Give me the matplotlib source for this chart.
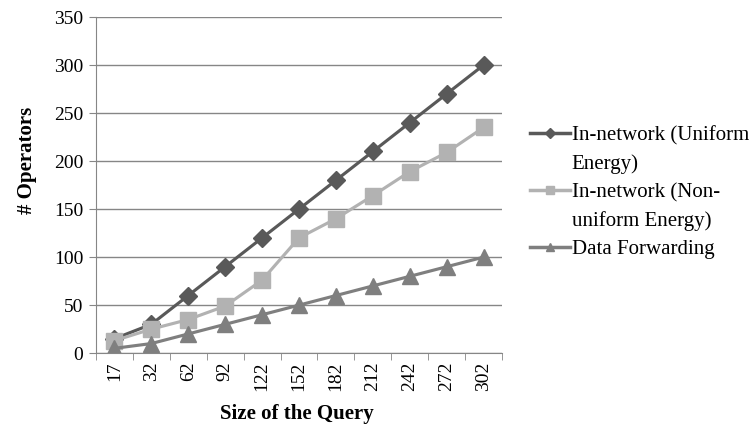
import numpy as np
import matplotlib
matplotlib.use("Agg")
import matplotlib.pyplot as plt
from matplotlib.lines import Line2D

# query sizes (categories) and operator counts per strategy
query_sizes = ["17", "32", "62", "92", "122", "152", "182", "212", "242", "272", "302"]
uniform = [15, 30, 60, 90, 120, 150, 180, 210, 240, 270, 300]
non_uniform = [13, 25, 35, 49, 76, 120, 140, 164, 189, 209, 235]
forwarding = [5, 10, 20, 30, 40, 50, 60, 70, 80, 90, 100]

plt.rcParams['font.family'] = ['Liberation Serif', 'DejaVu Serif']

fig = plt.figure(figsize=(7.55, 4.26), dpi=100)
ax = fig.add_axes([0.127, 0.171, 0.538, 0.789])

c_uni, c_non, c_fwd = '#595959', '#b2b2b2', '#7f7f7f'

x = np.arange(len(query_sizes))
ax.plot(x, uniform, color=c_uni, lw=2.25, marker='D', ms=9)
ax.plot(x, non_uniform, color=c_non, lw=2.25, marker='s', ms=11)
ax.plot(x, forwarding, color=c_fwd, lw=2.25, marker='^', ms=11)

ax.set_xlim(-0.5, len(query_sizes) - 0.5)
ax.set_ylim(0, 350)
ax.set_yticks(range(0, 351, 50))
ax.set_xticks(x)
ax.set_xticklabels(query_sizes, rotation=90, fontsize=14)
ax.set_xticks(np.arange(-0.5, len(query_sizes)), minor=True)
ax.tick_params(axis='x', which='major', length=0, pad=6)
ax.tick_params(axis='x', which='minor', length=5, color='#868686', direction='out')
ax.tick_params(axis='y', length=5, color='#868686', labelsize=14, pad=4)

ax.grid(axis='y', color='#868686', lw=1)
ax.set_axisbelow(True)
for s in ['top', 'right']:
    ax.spines[s].set_visible(False)
for s in ['left', 'bottom']:
    ax.spines[s].set_color('#868686')

ax.set_xlabel('Size of the Query', fontsize=15, fontweight='bold')
ax.set_ylabel('# Operators', fontsize=15, fontweight='bold')
ax.xaxis.set_label_coords(0.495, -0.15)
ax.yaxis.set_label_coords(-0.145, 0.574)

# legend: wrapped labels, handle sits on the first line of each entry
blank = Line2D([], [], linestyle='none')
handles = [
    Line2D([], [], color=c_uni, lw=2.5, marker='D', ms=5),
    blank,
    Line2D([], [], color=c_non, lw=2.5, marker='s', ms=6),
    blank,
    Line2D([], [], color=c_fwd, lw=2.5, marker='^', ms=6),
]
labels = ['In-network (Uniform', 'Energy)', 'In-network (Non-',
          'uniform Energy)', 'Data Forwarding']
fig.legend(handles, labels, loc='upper left', bbox_to_anchor=(0.702, 0.705),
           frameon=False, fontsize=15, handlelength=1.9, handletextpad=0.1,
           labelspacing=0.42, borderpad=0, borderaxespad=0)

fig.savefig('out.png', dpi=100)
